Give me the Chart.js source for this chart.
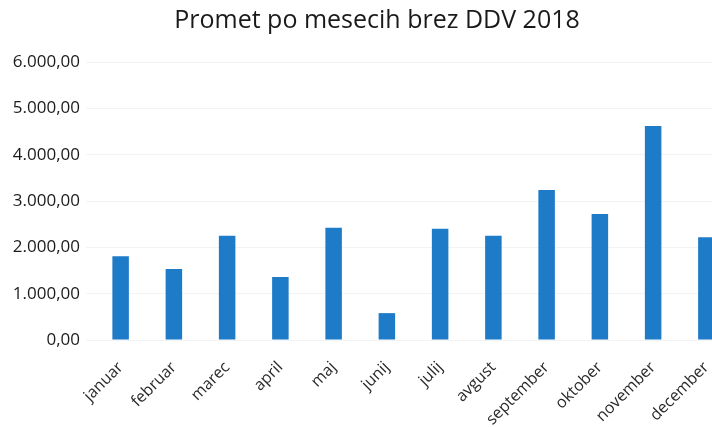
<!DOCTYPE html>
<html>
<head>
<meta charset="utf-8">
<script src="https://cdn.jsdelivr.net/npm/chart.js@4"></script>
<style>
  html, body { margin: 0; padding: 0; background: #fff; overflow: hidden; }
</style>
</head>
<body>
<canvas id="chart" width="754" height="427"></canvas>
<script>
const months = ["januar", "februar", "marec", "april", "maj", "junij",
                "julij", "avgust", "september", "oktober", "november", "december"];
const promet = [1810, 1530, 2250, 1360, 2420, 580, 2400, 2250, 3240, 2720, 4620, 2220];
const yTicks = [0, 1000, 2000, 3000, 4000, 5000, 6000];

function formatNum(v) {
    const whole = Math.floor(v).toString().replace(/\B(?=(\d{3})+(?!\d))/g, ".");
    return whole + ",00";
}

// center the title on the whole canvas, not only up to the right padding
const titleShift = {
    id: "titleShift",
    afterLayout(chart) {
        if (chart.titleBlock) chart.titleBlock.right += 21;
    }
};

const ctx = document.getElementById("chart").getContext("2d");
new Chart(ctx, {
    type: "bar",
    data: {
        labels: months,
        datasets: [{
            label: "Promet",
            data: promet,
            backgroundColor: "#1e7bc8",
            barPercentage: 0.31,
            categoryPercentage: 1
        }]
    },
    options: {
        responsive: false,
        animation: false,
        layout: { padding: { right: 21 } },
        plugins: {
            legend: { display: false },
            tooltip: { enabled: false },
            title: {
                display: true,
                text: "Promet po mesecih brez DDV 2018",
                color: "#1a1a1a",
                font: { family: "Open Sans", size: 25, weight: "normal" },
                padding: { top: 6, bottom: 26 }
            }
        },
        scales: {
            x: {
                grid: { display: false },
                border: { display: false },
                ticks: {
                    minRotation: 45,
                    maxRotation: 45,
                    color: "#2a2a2a",
                    padding: 10,
                    font: { family: "Open Sans", size: 16 }
                },
                afterFit: (s) => { s.height = 87; }
            },
            y: {
                min: 0,
                max: 6000,
                afterBuildTicks: (s) => { s.ticks = yTicks.map(v => ({ value: v })); },
                grid: { color: "#f3f3f3" },
                border: { display: false },
                ticks: {
                    color: "#1a1a1a",
                    padding: 6,
                    font: { family: "Open Sans", size: 17 },
                    callback: (v) => formatNum(v)
                },
                afterFit: (s) => { s.width = 94; }
            }
        }
    },
    plugins: [titleShift]
});
</script>
</body>
</html>
